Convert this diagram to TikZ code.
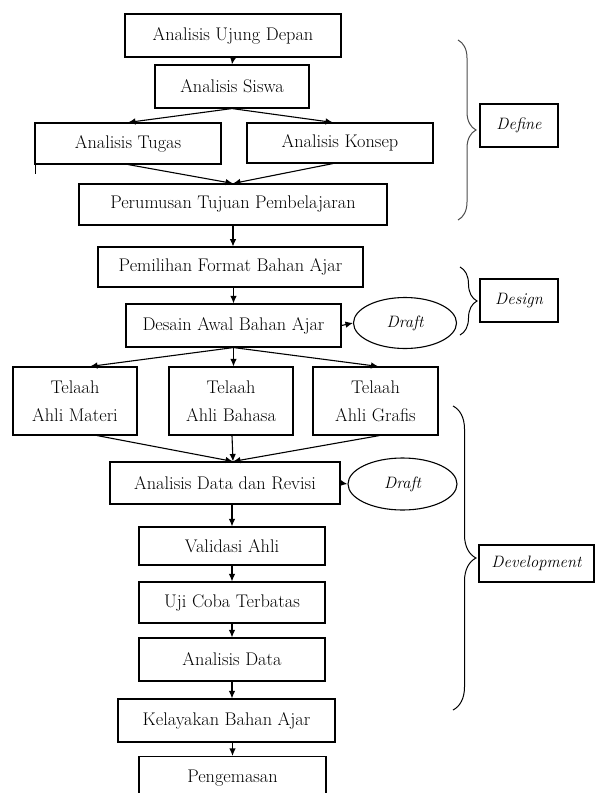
\documentclass[tikz,border=0pt]{standalone}
\usepackage{fontspec}
\usetikzlibrary{arrows.meta,shapes.geometric,decorations.pathreplacing}
\begin{document}
\begin{tikzpicture}[x=1pt,y=-1pt,line width=1.1pt,
    box/.style={draw,rectangle,inner sep=0pt,font=\fontsize{18.3}{28}\selectfont,align=center},
    oval/.style={draw,ellipse,inner sep=0pt,font=\fontsize{16.5}{19}\selectfont\itshape},
    tag/.style={draw,rectangle,inner sep=0pt,font=\fontsize{16.5}{19}\selectfont\itshape},
    arr/.style={-{Latex[length=7.5pt,width=6.5pt]}},
    brc/.style={decorate,line width=1pt,decoration={brace,amplitude=#1}}]
    \useasboundingbox (0,0) rectangle (595,793);

    \node [box,minimum width=216,minimum height=43] (ujung) at (233,35.5) {Analisis Ujung Depan};
    \node [box,minimum width=154,minimum height=43] (siswa) at (232,86.5) {Analisis Siswa};
    \node [box,minimum width=186,minimum height=41] (tugas) at (128,143.5) {Analisis Tugas};
    \node [box,minimum width=186,minimum height=40] (konsep) at (340,143) {Analisis Konsep};
    \node [box,minimum width=308,minimum height=41] (rumus) at (233,204.5) {Perumusan Tujuan Pembelajaran};
    \node [box,minimum width=265,minimum height=40] (format) at (230.5,267) {Pemilihan Format Bahan Ajar};
    \node [box,minimum width=215,minimum height=43] (desain) at (233.5,325.5) {Desain Awal Bahan Ajar};
    \node [oval,minimum width=103,minimum height=51] (draftA) at (405,323) {Draft};
    \node [box,minimum width=124,minimum height=68] (materi) at (75,401) {Telaah\\Ahli Materi};
    \node [box,minimum width=124,minimum height=68] (bahasa) at (231,401) {Telaah\\Ahli Bahasa};
    \node [box,minimum width=125,minimum height=68] (grafis) at (375.5,401) {Telaah\\Ahli Grafis};
    \node [box,minimum width=230,minimum height=42] (revisi) at (225,483) {Analisis Data dan Revisi};
    \node [oval,minimum width=109,minimum height=52] (draftB) at (402.5,484) {Draft};
    \node [box,minimum width=186,minimum height=38] (validasi) at (232,546) {Validasi Ahli};
    \node [box,minimum width=186,minimum height=41] (uji) at (232,602.5) {Uji Coba Terbatas};
    \node [box,minimum width=186,minimum height=43] (adata) at (232,659.5) {Analisis Data};
    \node [box,minimum width=217,minimum height=43] (layak) at (226.5,720.5) {Kelayakan Bahan Ajar};
    \node [box,minimum width=187,minimum height=43] (kemas) at (232.5,778) {Pengemasan};

    \node [tag,minimum width=78,minimum height=43] (define) at (519,125.5) {Define};
    \node [tag,minimum width=78,minimum height=43] (design) at (519,300.5) {Design};
    \node [tag,minimum width=115,minimum height=37] (devel) at (536.5,563.5) {Development};

    \draw [arr] (ujung.south) -- (siswa.north);
    \draw [arr] (siswa.south) -- (tugas.north);
    \draw [arr] (siswa.south) -- ([xshift=-7pt]konsep.north);
    \draw [arr] (tugas.south) -- (rumus.north);
    \draw [arr] ([xshift=-7pt]konsep.south) -- (rumus.north);
    \draw [arr] (rumus.south) -- ++(0,21);
    \draw [arr] (format.south -| desain.south) -- (desain.north);
    \draw [arr] (desain.east) -- (draftA.west);
    \draw [arr] (desain.south) -- ([xshift=15pt]materi.north);
    \draw [arr] (desain.south) -- (desain.south |- bahasa.north);
    \draw [arr] (desain.south) -- ([xshift=3pt]grafis.north);
    \draw [arr] ([xshift=22pt]materi.south) -- ([xshift=8pt]revisi.north);
    \draw [arr] ([xshift=1pt]bahasa.south) -- ([xshift=8pt]revisi.north);
    \draw [arr] ([xshift=4pt]grafis.south) -- ([xshift=8pt]revisi.north);
    \draw [arr] (revisi.east) -- (draftB.west);
    \draw [arr] (validasi.north |- revisi.south) -- (validasi.north);
    \draw [arr] (validasi.south) -- (uji.north);
    \draw [arr] (uji.south) -- (adata.north);
    \draw [arr] (adata.south) -- (adata.south |- layak.north);
    \draw [arr] (kemas.north |- layak.south) -- (kemas.north);
    \draw [line width=0.8pt] ([xshift=1pt,yshift=7pt]tugas.south west) -- ++(0,16);

    \draw [brc=18pt,aspect=0.49,gray!60!black] (458,40) -- (458,220);
    \draw [brc=17pt,aspect=0.49] (460,267) -- (460,335);
    \draw [brc=23pt,aspect=0.48] (453,406) -- (453,710);
\end{tikzpicture}
\end{document}
